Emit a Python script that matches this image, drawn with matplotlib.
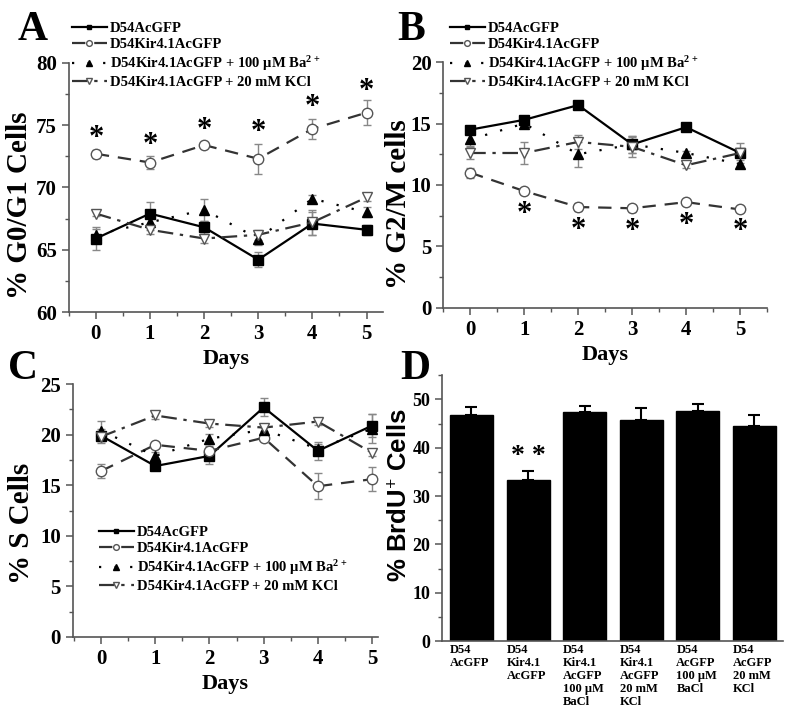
import numpy as np
import matplotlib.pyplot as plt
from matplotlib.ticker import MultipleLocator

plt.rcParams['font.family'] = 'Liberation Serif'
plt.rcParams['font.weight'] = 'bold'
plt.rcParams['mathtext.fontset'] = 'custom'
plt.rcParams['mathtext.rm'] = 'Liberation Serif:bold'
plt.rcParams['mathtext.default'] = 'rm'

days = [0, 1, 2, 3, 4, 5]
labels = ['D54AcGFP', 'D54Kir4.1AcGFP',
          'D54Kir4.1AcGFP + 100 \u03bcM Ba$^{2+}$',
          'D54Kir4.1AcGFP + 20 mM KCl']

# panel A: % G0/G1
g1_ctrl = [65.9, 67.9, 66.8, 64.2, 67.1, 66.6]
g1_ctrl_err = [0.9, 0.9, 0.5, 0.6, 0.9, 0.4]
g1_kir = [72.7, 72.0, 73.4, 72.3, 74.7, 76.0]
g1_kir_err = [0.3, 0.5, 0.2, 1.2, 0.8, 1.0]
g1_ba = [66.2, 67.2, 68.2, 65.9, 69.1, 68.0]
g1_ba_err = [0.5, 0.6, 0.9, 0.5, 0.3, 0.4]
g1_kcl = [67.9, 66.6, 65.9, 66.2, 67.2, 69.2]
g1_kcl_err = [0.2, 0.3, 0.4, 0.4, 1.0, 0.3]
g1_stars = [73.9, 73.4, 74.6, 74.4, 76.4, 77.7]

# panel B: % G2/M
g2_ctrl = [14.5, 15.3, 16.5, 13.3, 14.7, 12.6]
g2_ctrl_err = [0.2, 0.2, 0.1, 0.7, 0.3, 0.3]
g2_kir = [11.0, 9.5, 8.2, 8.1, 8.6, 8.0]
g2_kir_err = [0.4, 0.2, 0.3, 0.3, 0.2, 0.2]
g2_ba = [13.7, 15.0, 12.5, 13.3, 12.6, 11.7]
g2_ba_err = [0.5, 0.3, 1.0, 0.7, 0.2, 0.3]
g2_kcl = [12.6, 12.6, 13.5, 13.1, 11.6, 12.6]
g2_kcl_err = [0.5, 0.9, 0.6, 0.8, 0.2, 0.8]
g2_star_days = [1, 2, 3, 4, 5]
g2_stars = [7.6, 6.3, 6.2, 6.7, 6.2]

# panel C: % S
s_ctrl = [19.9, 16.9, 17.9, 22.7, 18.4, 20.9]
s_ctrl_err = [0.7, 0.3, 0.8, 0.9, 0.9, 1.1]
s_kir = [16.4, 19.0, 18.4, 19.7, 14.9, 15.6]
s_kir_err = [0.7, 0.3, 0.5, 0.3, 1.3, 1.2]
s_ba = [20.4, 17.9, 19.6, 20.5, 18.6, 20.6]
s_ba_err = [1.0, 0.4, 0.5, 0.5, 0.5, 1.4]
s_kcl = [19.8, 21.9, 21.1, 20.7, 21.3, 18.2]
s_kcl_err = [0.3, 0.3, 0.3, 0.3, 0.3, 0.3]

# panel D: % BrdU+
groups = ['D54\nAcGFP', 'D54\nKir4.1\nAcGFP', 'D54\nKir4.1\nAcGFP\n100 \u03bcM\nBaCl',
          'D54\nKir4.1\nAcGFP\n20 mM\nKCl', 'D54\nAcGFP\n100 \u03bcM\nBaCl',
          'D54\nAcGFP\n20 mM\nKCl']
brdu = [46.8, 33.3, 47.4, 45.8, 47.5, 44.5]
brdu_err = [1.7, 1.8, 1.2, 2.4, 1.6, 2.3]

fig = plt.figure(figsize=(8, 7.14), dpi=100)

styles = [
    dict(marker='s', color='black', mfc='black', mec='black', ls='-', ms=6.5),
    dict(marker='o', color='#333333', mfc='white', mec='#555555', ls=(0, (6, 4)), ms=7.5),
    dict(marker='^', color='black', mfc='black', mec='black', ls=(0, (1, 6)), ms=7),
    dict(marker='v', color='#333333', mfc='white', mec='#555555', ls=(0, (7, 3, 1.5, 3)), ms=7.5),
]


def style_axes(ax):
    for s in ['top', 'right']:
        ax.spines[s].set_visible(False)
    for s in ['left', 'bottom']:
        ax.spines[s].set_color('#555555')
        ax.spines[s].set_linewidth(1.2)
    ax.tick_params(which='both', colors='#555555', labelcolor='black', direction='out')
    ax.tick_params(which='major', length=5, width=1.1, labelsize=15)
    ax.tick_params(which='minor', length=3, width=1.0)


def line_panel(ax, series, errs, ylim, major, minor, ylabel):
    handles = []
    for vals, err, st, lab in zip(series, errs, styles, labels):
        c = ax.errorbar(days, vals, yerr=err, ecolor='#888888', elinewidth=1.0,
                        capsize=3, capthick=1.0, lw=1.6, label=lab, **st)
        handles.append(c.lines[0])
    ax.set_ylim(*ylim)
    ax.set_xticks(days)
    ax.xaxis.set_minor_locator(MultipleLocator(0.5))
    ax.yaxis.set_major_locator(MultipleLocator(major))
    ax.yaxis.set_minor_locator(MultipleLocator(minor))
    ax.set_xlabel('Days', fontsize=16, fontweight='bold')
    ax.set_ylabel(ylabel, fontsize=21, fontweight='bold')
    style_axes(ax)
    return handles


def add_legend(ax, handles, anchor):
    ax.legend(handles, labels, loc='upper left', bbox_to_anchor=anchor, frameon=False,
              fontsize=10.5, handlelength=2.4, handletextpad=0.2, labelspacing=0.2,
              markerscale=0.55, borderaxespad=0, borderpad=0)


axA = fig.add_axes([0.086, 0.563, 0.3925, 0.349])
hA = line_panel(axA, [g1_ctrl, g1_kir, g1_ba, g1_kcl],
                [g1_ctrl_err, g1_kir_err, g1_ba_err, g1_kcl_err],
                (60, 80), 5, 2.5, '% G0/G1 Cells')
axA.set_xlim(-0.5, 5.3)
axA.yaxis.set_label_coords(-0.115, 0.43)
for d, y in zip(days, g1_stars):
    axA.text(d, y, '*', ha='center', va='center', fontsize=22, fontweight='bold')
add_legend(axA, hA, (0.01, 1.165))

axB = fig.add_axes([0.554, 0.569, 0.405, 0.344])
hB = line_panel(axB, [g2_ctrl, g2_kir, g2_ba, g2_kcl],
                [g2_ctrl_err, g2_kir_err, g2_ba_err, g2_kcl_err],
                (0, 20), 5, 2.5, '% G2/M cells')
axB.set_xlim(-0.5, 5.5)
axB.yaxis.set_label_coords(-0.095, 0.42)
for d, y in zip(g2_star_days, g2_stars):
    axB.text(d, y, '*', ha='center', va='center', fontsize=22, fontweight='bold')
add_legend(axB, hB, (0.02, 1.163))

axC = fig.add_axes([0.091, 0.108, 0.381, 0.354])
hC = line_panel(axC, [s_ctrl, s_kir, s_ba, s_kcl],
                [s_ctrl_err, s_kir_err, s_ba_err, s_kcl_err],
                (0, 25), 5, 2.5, '% S Cells')
axC.set_xlim(-0.52, 5.1)
axC.yaxis.set_label_coords(-0.125, 0.45)
add_legend(axC, hC, (0.085, 0.44))

axD = fig.add_axes([0.5525, 0.102, 0.426, 0.3725])
xpos = np.arange(len(brdu))
width = 0.76
axD.bar(xpos, brdu, width=width, color='black', edgecolor='black')
axD.errorbar(xpos, brdu, yerr=[np.zeros(len(brdu)), brdu_err], fmt='none',
             ecolor='black', elinewidth=1.5, capsize=4, capthick=1.5)
axD.text(xpos[1], brdu[1] + brdu_err[1] + 3.0, '* *', ha='center', va='center',
         fontsize=20, fontweight='bold')
style_axes(axD)
axD.set_xlim(-0.52, 5.5)
axD.set_ylim(0, 55)
axD.yaxis.set_major_locator(MultipleLocator(10))
axD.yaxis.set_minor_locator(MultipleLocator(5))
axD.set_xticks(xpos - width / 2)
axD.set_xticklabels(groups, ha='left', fontsize=9, fontweight='bold', linespacing=1.1)
axD.tick_params(axis='y', labelsize=13)
axD.tick_params(axis='x', length=0, pad=2, labelsize=9)
axD.set_ylabel('% BrdU$^{+}$ Cells', family='Liberation Sans', fontsize=18.5,
               fontweight='bold')
axD.yaxis.set_label_coords(-0.09, 0.55)

for txt, x, y in [('A', 0.022, 0.985), ('B', 0.497, 0.985), ('C', 0.01, 0.51), ('D', 0.5, 0.51)]:
    fig.text(x, y, txt, fontsize=30, fontweight='bold', va='top', ha='left')

fig.savefig('out.png', dpi=100)
